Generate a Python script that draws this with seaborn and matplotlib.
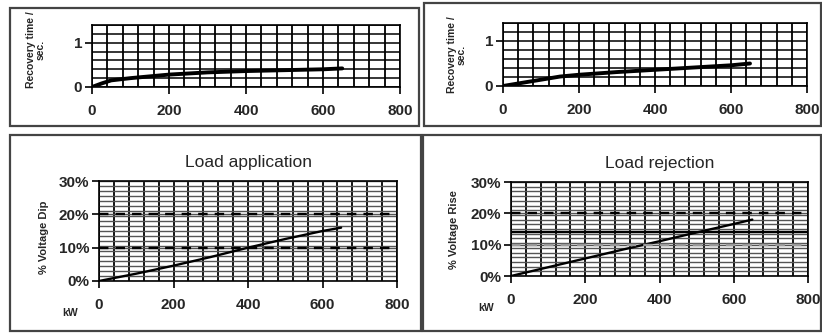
import matplotlib
matplotlib.use("Agg")
import matplotlib.pyplot as plt
from matplotlib.patches import Rectangle
from matplotlib.ticker import MultipleLocator, PercentFormatter
import seaborn as sns
import pandas as pd

# data
rec_app_kw = [0, 25, 50, 100, 150, 200, 300, 400, 500, 600, 650]
rec_app_s = [0, 0.08, 0.15, 0.20, 0.24, 0.28, 0.33, 0.36, 0.38, 0.40, 0.42]

rec_rej_kw = [0, 50, 100, 150, 200, 300, 400, 500, 600, 650]
rec_rej_s = [0, 0.07, 0.14, 0.21, 0.25, 0.31, 0.36, 0.41, 0.46, 0.50]

dip_kw = [0, 100, 200, 300, 400, 500, 600, 650]
dip_pct = [0, 2.2, 4.6, 7.2, 10.0, 12.6, 15.0, 16.0]

rise_kw = [0, 100, 200, 300, 400, 500, 600, 650]
rise_pct = [0, 2.8, 5.6, 8.4, 11.1, 13.9, 16.6, 18.0]

titles = ["Load application", "Load rejection"]
rec_label = "Recovery time /\nsec."
volt_labels = ["% Voltage Dip", "% Voltage Rise"]
dip_dashed = [10, 20]
rise_dashed_black = [20]
rise_dashed_gray = [10]
rise_solid = [14]

sns.set_style("white")
plt.rcParams['font.family'] = ['Liberation Sans', 'DejaVu Sans']

fig = plt.figure(figsize=(8.22, 3.34), dpi=100)

# panel frames (pixels: left, top, right, bottom)
frames = [(10, 8, 419, 126), (424, 3, 821, 126), (10, 135, 421, 331), (423, 135, 821, 331)]
for l, t, r, b in frames:
    fig.patches.append(Rectangle((l / 822, 1 - b / 334), (r - l) / 822, (b - t) / 334,
                                 transform=fig.transFigure, fill=False,
                                 edgecolor="#444444", linewidth=1.6))

def px_axes(l, t, r, b):
    return fig.add_axes([l / 822, 1 - b / 334, (r - l) / 822, (b - t) / 334])

def style(ax, ymax, ymajor, yminor, hcolor, hlw):
    ax.set_xlim(0, 800)
    ax.set_ylim(0, ymax)
    ax.xaxis.set_major_locator(MultipleLocator(200))
    ax.xaxis.set_minor_locator(MultipleLocator(40))
    ax.yaxis.set_major_locator(MultipleLocator(ymajor))
    ax.yaxis.set_minor_locator(MultipleLocator(yminor))
    ax.grid(True, which="both", axis="x", color="black", linewidth=1.3)
    ax.grid(True, which="both", axis="y", color=hcolor, linewidth=hlw)
    ax.set_axisbelow(True)
    for s in ax.spines.values():
        s.set_color("black")
        s.set_linewidth(1.2)
    ax.tick_params(axis="both", which="major", direction="out", length=5, width=1.2,
                   color="black", labelsize=11, bottom=True, left=True)
    ax.tick_params(axis="x", which="major", pad=7)
    ax.tick_params(axis="y", which="major", pad=2)
    ax.tick_params(which="minor", length=0)
    for lab in ax.get_xticklabels() + ax.get_yticklabels():
        lab.set_fontweight("bold")
    ax.set_xlabel("")

# top: recovery time
ax1 = px_axes(92, 25, 400, 87)
sns.lineplot(data=pd.DataFrame({"kw": rec_app_kw, "s": rec_app_s}), x="kw", y="s",
             ax=ax1, color="black", linewidth=2.8)
ax2 = px_axes(503, 23, 807, 86)
sns.lineplot(data=pd.DataFrame({"kw": rec_rej_kw, "s": rec_rej_s}), x="kw", y="s",
             ax=ax2, color="black", linewidth=2.8)
for ax, lx, ly in [(ax1, -0.15, 0.6), (ax2, -0.12, 0.5)]:
    style(ax, 1.4, 1, 0.2, "black", 1.1)
    ax.set_ylabel(rec_label, fontsize=7.5, fontweight="bold", linespacing=1.0)
    ax.yaxis.set_label_coords(lx, ly)

# bottom: voltage
ax3 = px_axes(99, 181, 397, 281)
sns.lineplot(data=pd.DataFrame({"kw": dip_kw, "p": dip_pct}), x="kw", y="p",
             ax=ax3, color="black", linewidth=1.7)
for v in dip_dashed:
    ax3.axhline(v, color="black", linestyle=(0, (4, 3)), linewidth=1.7)

ax4 = px_axes(511, 182, 808, 276)
sns.lineplot(data=pd.DataFrame({"kw": rise_kw, "p": rise_pct}), x="kw", y="p",
             ax=ax4, color="black", linewidth=1.7)
for v in rise_dashed_black:
    ax4.axhline(v, color="black", linestyle=(0, (4, 3)), linewidth=1.7)
for v in rise_dashed_gray:
    ax4.axhline(v, color="#9a9a9a", linestyle=(0, (4, 3)), linewidth=1.7)
for v in rise_solid:
    ax4.axhline(v, color="black", linewidth=1.7)

for ax, title, ylab, lx, ly, kwx, kwy in [
        (ax3, titles[0], volt_labels[0], -0.168, 0.44, 70, 313),
        (ax4, titles[1], volt_labels[1], -0.175, 0.49, 486, 308)]:
    style(ax, 30, 10, 1.5, "#555555", 1.0)
    ax.yaxis.set_major_formatter(PercentFormatter(decimals=0))
    for lab in ax.get_yticklabels():
        lab.set_fontweight("bold")
    ax.set_title(title, fontsize=12.5, pad=10)
    ax.set_ylabel(ylab, fontsize=8, fontweight="bold")
    ax.yaxis.set_label_coords(lx, ly)
    fig.text(kwx / 822, 1 - kwy / 334, "kW", fontsize=7.5, fontweight="bold",
             ha="center", va="center")

fig.savefig("out.png", dpi=100)
